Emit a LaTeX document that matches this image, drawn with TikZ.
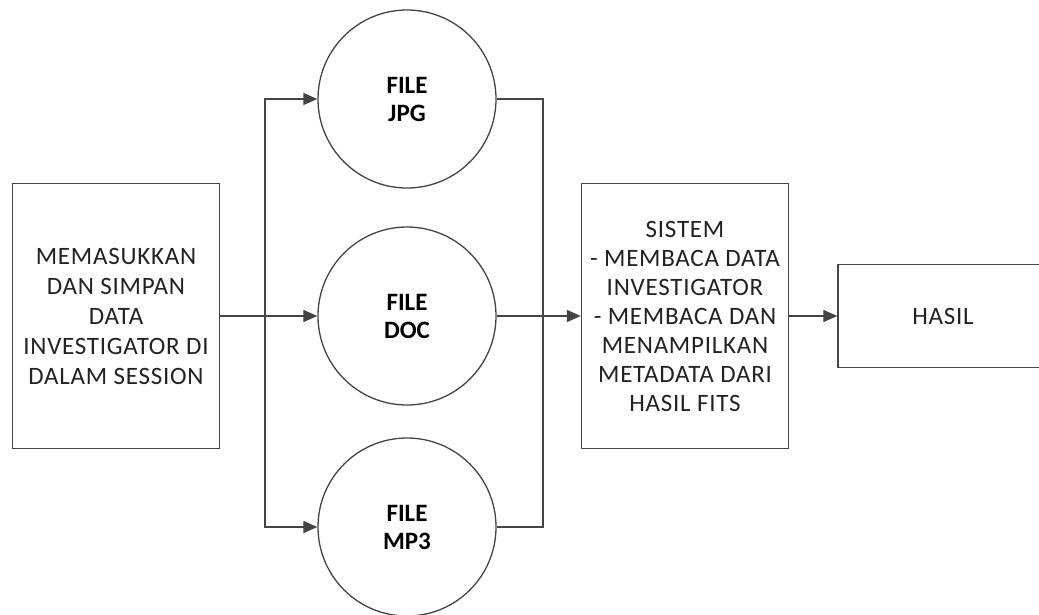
\documentclass[tikz,border=0pt]{standalone}
\usepackage{fontspec}
\setmainfont{Carlito}
\newfontfamily\boxfont[LetterSpace=3]{Carlito}
\usetikzlibrary{arrows.meta}
\definecolor{edge}{HTML}{444444}
\definecolor{ink}{HTML}{222222}
\tikzset{
  box/.style={draw=edge, line width=1.3pt, fill=white, inner sep=0pt,
    minimum width=207pt, minimum height=265pt, align=center,
    text=ink, font=\boxfont\fontsize{25}{29}\selectfont},
  filenode/.style={circle, draw=edge, line width=1.3pt, fill=white, inner sep=0pt,
    minimum size=178pt, align=center, text=black,
    font=\bfseries\fontsize{25}{28}\selectfont},
  flow/.style={draw=edge, line width=1.4pt},
  arrow/.style={flow, -{Triangle[length=14pt,width=12pt]}}
}
\begin{document}
\begin{tikzpicture}[x=1pt,y=-1pt]
  \useasboundingbox (0,0) rectangle (1039,614);
  \clip (0,0) rectangle (1039,614);

  % input, three file types, processing and output
  \node[box, font=\boxfont\fontsize{25}{30}\selectfont] (in) at (116,316)
    {MEMASUKKAN\\DAN SIMPAN\\DATA\\INVESTIGATOR DI\\DALAM SESSION};
  \node[filenode] (jpg) at (407,99) {FILE\\JPG};
  \node[filenode] (doc) at (407,316) {FILE\\DOC};
  \node[filenode] (mp3) at (407,527) {FILE\\MP3};
  \node[box] (sys) at (685,316)
    {SISTEM\\- MEMBACA DATA\\INVESTIGATOR\\- MEMBACA DAN\\MENAMPILKAN\\METADATA DARI\\HASIL FITS};
  \node[box, minimum width=210pt, minimum height=103pt] (hasil) at (943,316) {HASIL};

  % branch points
  \coordinate (split) at (265,316);
  \coordinate (merge) at (543,316);

  % connectors
  \draw[arrow] (in.east) -- (doc.west);
  \draw[flow, line width=2.6pt] (in.east) -- (split);
  \draw[arrow] (split) |- (jpg.west);
  \draw[arrow] (split) |- (mp3.west);
  \draw[flow] (jpg.east) -| (merge);
  \draw[flow] (mp3.east) -| (merge);
  \draw[arrow] (doc.east) -- (sys.west);
  \draw[arrow] (sys.east) -- (hasil.west);
\end{tikzpicture}
\end{document}
